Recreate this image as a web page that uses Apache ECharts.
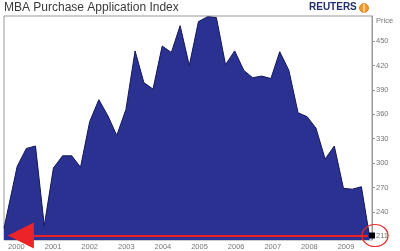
<!DOCTYPE html>
<html>
<head>
<meta charset="utf-8">
<script src="https://cdn.jsdelivr.net/npm/echarts@6/dist/echarts.min.js"></script>
<style>
html,body{margin:0;padding:0;background:#fff;}
#chart{width:400px;height:251px;}
</style>
</head>
<body>
<div id="chart"></div>
<script>
// Decimal-year dates of each point
var dates = [1999.66, 2000.02, 2000.27, 2000.52, 2000.76, 2001.01, 2001.26, 2001.51, 2001.75,
  2002.00, 2002.25, 2002.50, 2002.74, 2002.99, 2003.24, 2003.48, 2003.73, 2003.98,
  2004.23, 2004.47, 2004.72, 2004.97, 2005.22, 2005.46, 2005.71, 2005.96, 2006.21,
  2006.45, 2006.70, 2006.95, 2007.19, 2007.44, 2007.69, 2007.94, 2008.18, 2008.43,
  2008.68, 2008.93, 2009.17, 2009.42, 2009.64];
// Index values
var values = [220, 296, 318, 321, 223, 294, 309, 309, 295,
  351, 378, 358, 334, 366, 438, 399, 391, 444,
  436, 469, 420, 474, 480, 479, 421, 438, 414,
  405, 407, 404, 437, 414, 362, 357, 343, 305,
  321, 269, 268, 271, 211];
var yearTicks = [2000, 2001, 2002, 2003, 2004, 2005, 2006, 2007, 2008, 2009];
var priceTicks = [211, 240, 270, 300, 330, 360, 390, 420, 450];
var lastValue = 211;

var chart = echarts.init(document.getElementById('chart'), null, {renderer: 'canvas'});
var data = dates.map(function (d, i) { return [d, values[i]]; });

chart.setOption({
  animation: false,
  backgroundColor: '#fff',
  title: {
    text: 'MBA Purchase Application Index',
    left: 4, top: 2, padding: 0,
    textStyle: {fontFamily: 'Liberation Sans', fontSize: 12, fontWeight: 'normal', color: '#3a3a3a'}
  },
  graphic: [
    {type: 'text', left: 309, top: 2,
     style: {text: 'REUTERS', font: 'bold 10px "Liberation Sans"', fill: '#24306e', letterSpacing: 1}},
    {type: 'circle', shape: {cx: 364, cy: 8, r: 4.5},
     style: {fill: '#f39a2a', stroke: '#d07010', lineWidth: 0.8}},
    {type: 'line', shape: {x1: 364, y1: 3.5, x2: 364, y2: 12.5},
     style: {stroke: '#fff', lineWidth: 1}},
    {type: 'text', left: 376, top: 17,
     style: {text: 'Price', font: '7.5px "Liberation Sans"', fill: '#777'}}
  ],
  grid: {
    left: 4, right: 28, top: 16, bottom: 10,
    show: true, borderColor: '#999', borderWidth: 1, backgroundColor: '#fff'
  },
  xAxis: {
    type: 'value', min: 1999.66, max: 2009.71,
    splitLine: {show: false},
    axisLine: {show: false},
    axisTick: {show: false},
    axisLabel: {
      customValues: yearTicks, margin: 3,
      fontSize: 7.5, color: '#777', fontFamily: 'Liberation Sans',
      formatter: function (v) { return String(v); }
    }
  },
  yAxis: {
    type: 'value', position: 'right', min: 205.5, max: 480.9,
    splitLine: {show: false},
    axisLine: {show: true, lineStyle: {color: '#999', width: 1}},
    axisTick: {show: true, customValues: priceTicks, length: 3, lineStyle: {color: '#999'}},
    axisLabel: {
      customValues: priceTicks, margin: 4,
      fontSize: 7.5, color: '#777', fontFamily: 'Liberation Sans'
    }
  },
  series: [{
    type: 'line',
    data: data,
    clip: false,
    symbol: 'none',
    lineStyle: {color: '#12175a', width: 1},
    areaStyle: {color: '#2b3191', opacity: 1},
    markLine: {
      silent: true,
      symbol: ['triangle', 'none'],
      symbolSize: 26,
      label: {show: false},
      lineStyle: {color: '#ec2327', width: 2, type: 'solid'},
      data: [[{coord: [2000.12, lastValue]}, {coord: [2009.6, lastValue]}]]
    },
    markPoint: {
      silent: true,
      label: {show: false},
      data: [
        {coord: [2009.71, lastValue], symbol: 'circle', symbolSize: [26, 22], symbolOffset: [3, 0],
         itemStyle: {color: 'rgba(255,255,255,0)', borderColor: '#e42a2a', borderWidth: 1.2}},
        {coord: [2009.71, lastValue], symbol: 'rect', symbolSize: 6,
         itemStyle: {color: '#000'}}
      ]
    }
  }]
});
</script>
</body>
</html>
